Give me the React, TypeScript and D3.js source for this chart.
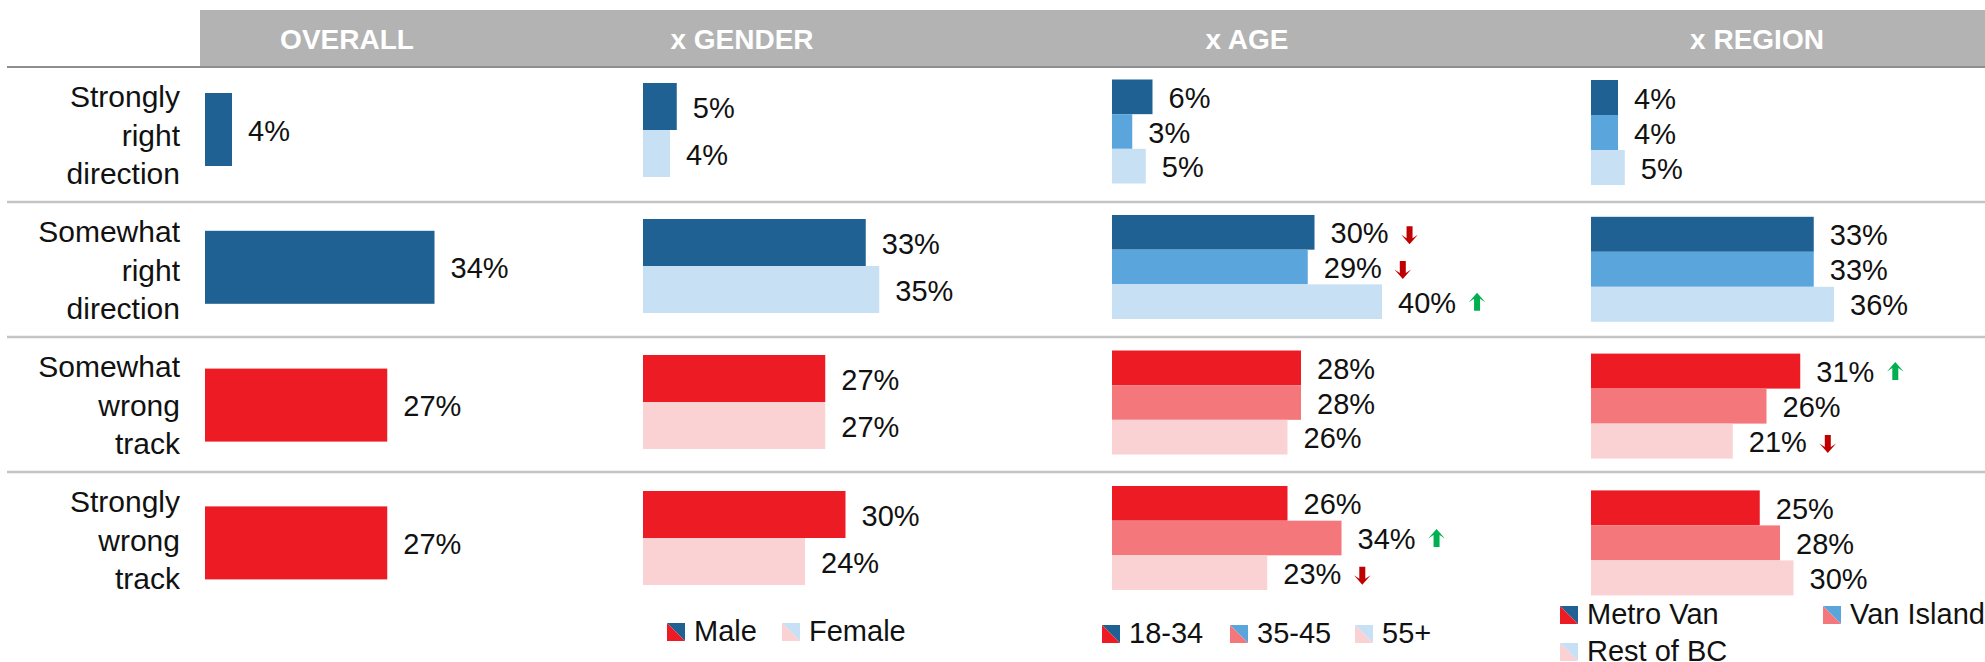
import { useRef, useEffect } from 'react';
import * as d3 from 'd3';

// row categories (split in lines as shown)
const rowLabels = [
  ['Strongly', 'right', 'direction'],
  ['Somewhat', 'right', 'direction'],
  ['Somewhat', 'wrong', 'track'],
  ['Strongly', 'wrong', 'track'],
];

const overall = [4, 34, 27, 27];

const male = [5, 33, 27, 30];
const female = [4, 35, 27, 24];

const age1834 = [6, 30, 28, 26];
const age3545 = [3, 29, 28, 34];
const age55 = [5, 40, 26, 23];

const metroVan = [4, 33, 31, 25];
const vanIsland = [4, 33, 26, 28];
const restOfBC = [5, 36, 21, 30];

// significance arrows
const age1834Trend = ['', 'down', '', ''];
const age3545Trend = ['', 'down', '', 'up'];
const age55Trend = ['', 'up', '', 'down'];
const metroVanTrend = ['', '', 'up', ''];
const restOfBCTrend = ['', '', 'down', ''];
const noTrend = ['', '', '', ''];

const blues = ['#1F6193', '#5BA5DD', '#C8E0F4'];
const reds = ['#ED1C24', '#F4777B', '#FAD2D4'];

const font = '"Liberation Sans", Arial, sans-serif';

const columns = [
  {
    title: 'OVERALL', titleX: 347, x0: 205, groupH: 73, yRange: [60.6, 611.8],
    series: [{ name: 'Overall', values: overall, shade: 0, trend: noTrend }],
    legend: [],
  },
  {
    title: 'x GENDER', titleX: 742, x0: 643, groupH: 94, yRange: [62, 606],
    series: [
      { name: 'Male', values: male, shade: 0, trend: noTrend },
      { name: 'Female', values: female, shade: 2, trend: noTrend },
    ],
    legend: [[667, 623], [782, 623]],
  },
  {
    title: 'x AGE', titleX: 1247, x0: 1112, groupH: 104, yRange: [63.75, 605.75],
    series: [
      { name: '18-34', values: age1834, shade: 0, trend: age1834Trend },
      { name: '35-45', values: age3545, shade: 1, trend: age3545Trend },
      { name: '55+', values: age55, shade: 2, trend: age55Trend },
    ],
    legend: [[1102, 625], [1230, 625], [1355, 625]],
  },
  {
    title: 'x REGION', titleX: 1757, x0: 1591, groupH: 105, yRange: [64.1, 611.3],
    series: [
      { name: 'Metro Van', values: metroVan, shade: 0, trend: metroVanTrend },
      { name: 'Van Island', values: vanIsland, shade: 1, trend: noTrend },
      { name: 'Rest of BC', values: restOfBC, shade: 2, trend: restOfBCTrend },
    ],
    legend: [[1560, 606], [1823, 606], [1560, 643]],
  },
];

const W = 1985;
const H = 662;

// bold arrow with notched head, pointing up (dir=-1) or down (dir=1)
const arrowPoints = (ax, ay, dir) => {
  const h = 9, w = 8.3, s = 3;
  return [
    [ax, ay + dir * h],
    [ax + w, ay + dir * (h - 9.5)],
    [ax + s, ay + dir * (h - 6)],
    [ax + s, ay - dir * h],
    [ax - s, ay - dir * h],
    [ax - s, ay + dir * (h - 6)],
    [ax - w, ay + dir * (h - 9.5)],
  ];
};

const App = () => {
  const svgRef = useRef(null);

  useEffect(() => {
    const svg = d3.select(svgRef.current);
    svg.selectAll('*').remove();

    const x = d3.scaleLinear().domain([0, 100]).range([0, 675]);
    const rowScale = d3.scaleBand().domain(d3.range(4)).range([67, 67 + 135 * 4]);

    // header band
    svg.append('rect').attr('x', 200).attr('y', 10).attr('width', W - 200).attr('height', 56).attr('fill', '#B3B3B3');
    svg.selectAll('.title').data(columns).join('text')
      .attr('class', 'title')
      .attr('x', d => d.titleX).attr('y', 49)
      .attr('text-anchor', 'middle')
      .attr('fill', '#fff').attr('font-weight', 'bold').attr('font-size', 28)
      .attr('font-family', font)
      .text(d => d.title);

    svg.append('line').attr('x1', 7).attr('x2', W).attr('y1', 67).attr('y2', 67)
      .attr('stroke', '#8E8E8E').attr('stroke-width', 2);
    svg.selectAll('.divider').data([1, 2, 3]).join('line')
      .attr('class', 'divider')
      .attr('x1', 7).attr('x2', W)
      .attr('y1', d => rowScale(d)).attr('y2', d => rowScale(d))
      .attr('stroke', '#C4C4C4').attr('stroke-width', 2.5);

    // row labels
    rowLabels.forEach((lines, i) => {
      svg.append('text')
        .attr('text-anchor', 'end')
        .attr('font-family', font).attr('font-size', 30).attr('fill', '#111')
        .selectAll('tspan').data(lines).join('tspan')
        .attr('x', 180)
        .attr('y', (d, j) => rowScale(i) + 40 + j * 38.5)
        .text(d => d);
    });

    columns.forEach(col => {
      const rowY = d3.scaleBand().domain(d3.range(4)).range(col.yRange);
      const g = svg.append('g');

      col.series.forEach((s, si) => {
        s.values.forEach((v, ri) => {
          const center = rowY(ri) + rowY.bandwidth() / 2;
          const inner = d3.scaleBand().domain(d3.range(col.series.length))
            .range([center - col.groupH / 2, center + col.groupH / 2]);
          const palette = ri < 2 ? blues : reds;
          const yTop = inner(si);
          const bh = inner.bandwidth();
          const cy = yTop + bh / 2;

          g.append('rect')
            .attr('x', col.x0).attr('y', yTop)
            .attr('width', x(v)).attr('height', bh)
            .attr('fill', palette[s.shade]);

          const label = g.append('text')
            .attr('x', col.x0 + x(v) + 16).attr('y', cy + 11)
            .attr('font-family', font).attr('font-size', 29).attr('fill', '#111')
            .text(`${v}%`);

          const tr = s.trend[ri];
          if (tr) {
            const node = label.node();
            const end = col.x0 + x(v) + 16 + (node ? node.getComputedTextLength() : 50);
            const ax = end + 21;
            const dir = tr === 'down' ? 1 : -1;
            const ay = tr === 'down' ? cy + 3 : cy;
            g.append('path')
              .attr('d', d3.line()(arrowPoints(ax, ay, dir)) + 'Z')
              .attr('fill', tr === 'down' ? '#C00000' : '#00B050');
          }
        });
      });

      // legend
      col.legend.forEach(([lx, ly], si) => {
        const s = col.series[si];
        const lg = g.append('g').attr('transform', `translate(${lx},${ly})`);
        lg.append('path').attr('d', 'M0,0L18,0L18,18Z').attr('fill', blues[s.shade]);
        lg.append('path').attr('d', 'M0,0L18,18L0,18Z').attr('fill', reds[s.shade]);
        lg.append('text')
          .attr('x', 27).attr('y', 18)
          .attr('font-family', font).attr('font-size', 29).attr('fill', '#111')
          .text(s.name);
      });
    });
  }, []);

  return (
    <svg
      ref={svgRef}
      width={W}
      height={H}
      style={{ position: 'absolute', left: 0, top: 0, background: '#fff' }}
    />
  );
};

export default App;
